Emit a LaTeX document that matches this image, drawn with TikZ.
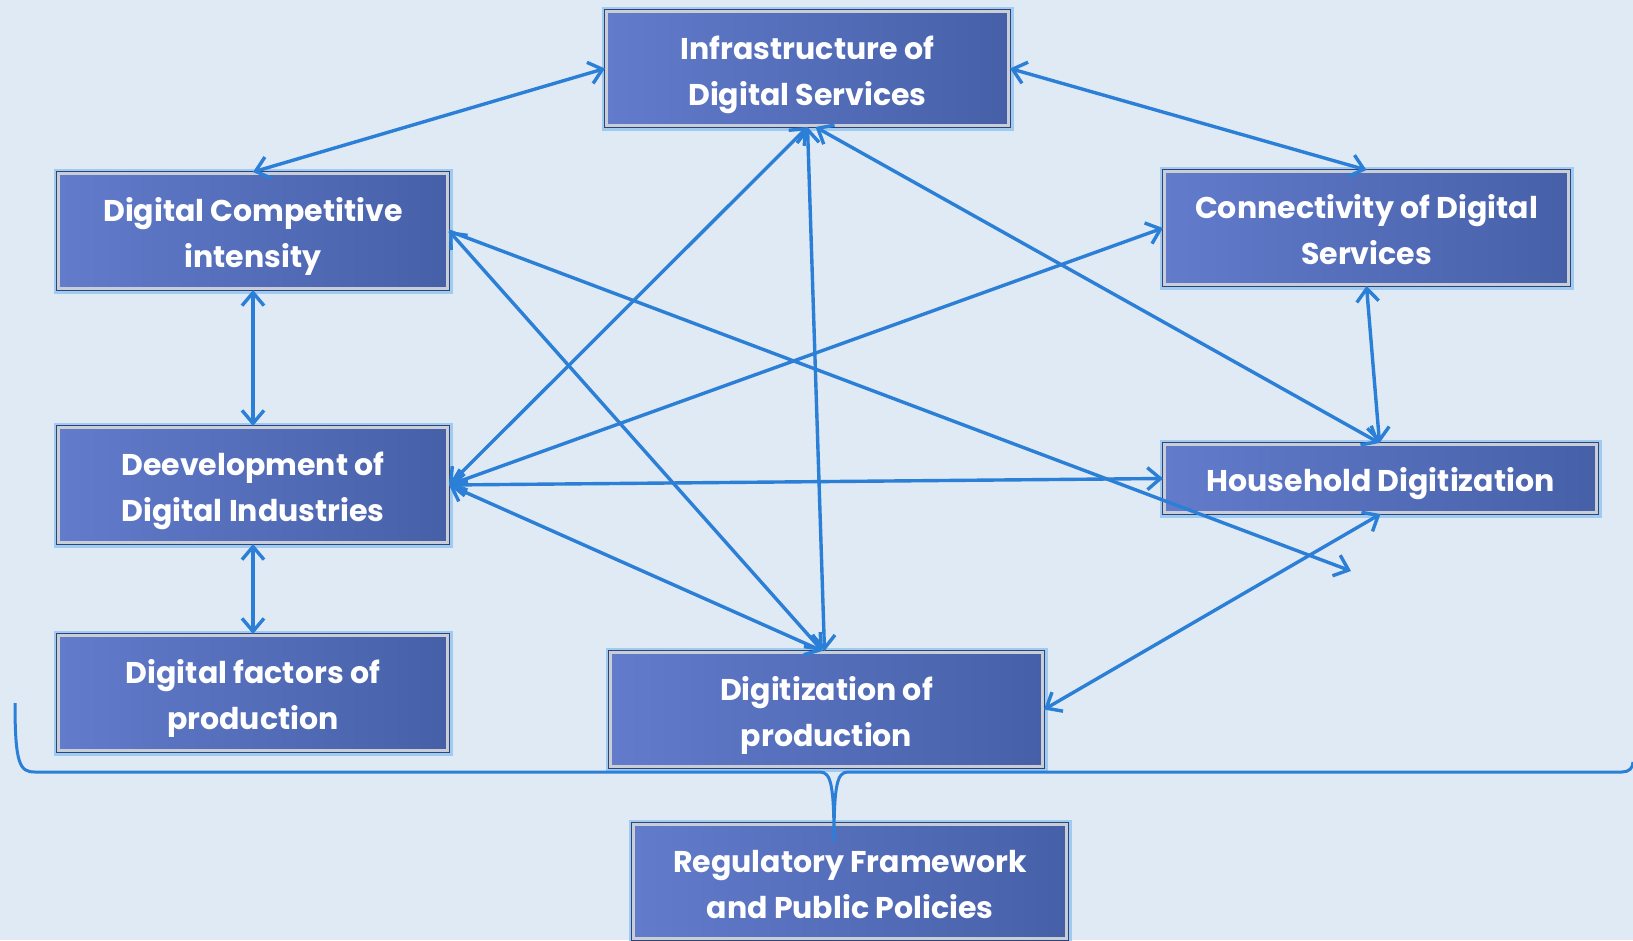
\documentclass[tikz,border=0pt]{standalone}
\usepackage{fontspec}
\setmainfont{Poppins}
\usetikzlibrary{arrows.meta,calc}
\definecolor{bg}{HTML}{DFEAF5}
\definecolor{boxL}{HTML}{627BCB}
\definecolor{boxR}{HTML}{4660A8}
\definecolor{frameG}{HTML}{C9CDD6}
\definecolor{darkline}{HTML}{2E4478}
\definecolor{glow}{HTML}{9FCBF3}
\definecolor{arr}{HTML}{2B7FD6}
\begin{document}
\begin{tikzpicture}[x=1pt,y=-1pt,
  box/.style={rectangle, inner sep=0pt, text=white, align=center,
    font=\fontsize{30}{46}\selectfont\bfseries,
    text height=78pt, text depth=5pt,
    left color=boxL, right color=boxR,
    preaction={draw=glow, line width=10pt},
    preaction={draw=darkline, line width=5pt},
    draw=frameG, line width=3pt},
  onebox/.style={box, text height=30pt, text depth=4pt},
  link/.style={draw=arr, line width=3.4pt, {Straight Barb[length=13pt,width=22pt]}-{Straight Barb[length=13pt,width=22pt]}},
  oneway/.style={draw=arr, line width=3.4pt, -{Straight Barb[length=13pt,width=22pt]}},
  bracestyle/.style={draw=arr, line width=3pt}]
\useasboundingbox (0,0) rectangle (1633,940);
\fill[bg] (0,0) rectangle (1633,940);

\node[box, minimum width=402pt, minimum height=114pt] (infra) at (807.5,68.5) {Infrastructure of\\Digital Services};
\node[box, minimum width=389pt, minimum height=115pt] (dci) at (253,231) {Digital Competitive\\intensity};
\node[box, minimum width=404pt, minimum height=113pt] (conn) at (1366.5,228) {Connectivity of Digital\\Services};
\node[box, minimum width=389pt, minimum height=115pt] (dev) at (253,485) {Deevelopment of\\Digital Industries};
\node[onebox, minimum width=432pt, minimum height=68pt] (house) at (1380.5,478.5) {Household Digitization};
\node[box, minimum width=389pt, minimum height=115pt] (dfp) at (253,693) {Digital factors of\\production};
\node[box, minimum width=432pt, minimum height=114pt] (dig) at (826.5,709.5) {Digitization of\\production};
\node[box, minimum width=433pt, minimum height=114pt] (reg) at (850,881.5) {Regulatory Framework\\and Public Policies};

\coordinate (free) at (1351,571);

\draw[link] (infra.west) -- (dci.north);
\draw[link] (infra.east) -- (conn.north);
\draw[link] (infra.south) -- (dev.east);
\draw[link] (infra.south) -- ([xshift=-2pt]dig.north);
\draw[link] ([xshift=8pt]infra.south) -- ([xshift=-1pt]house.north);
\draw[link] (dci.east) -- ([xshift=-4pt]dig.north);
\draw[oneway] (dci.east) -- (free);
\draw[link] (dci.south) -- (dev.north);
\draw[link] (dev.east) -- (conn.west);
\draw[link] (dev.east) -- (house.west);
\draw[link] (dev.east) -- ([xshift=-4pt]dig.north);
\draw[link] (dev.south) -- (dfp.north);
\draw[link] (conn.south) -- ([xshift=-1pt]house.north);
\draw[link] (house.south) -- (dig.east);

\coordinate (bl) at (15,703);
\coordinate (tip) at (834,842);
\coordinate (br) at (1633,762);
\draw[bracestyle] (bl) .. controls (15,765) and (20,772) .. (35,772) -- (820,772)
  .. controls (831,772) and (834,785) .. (tip)
  .. controls (834,785) and (837,772) .. (848,772) -- (1622,772)
  .. controls (1629,772) and (1633,768) .. (br);
\end{tikzpicture}
\end{document}
